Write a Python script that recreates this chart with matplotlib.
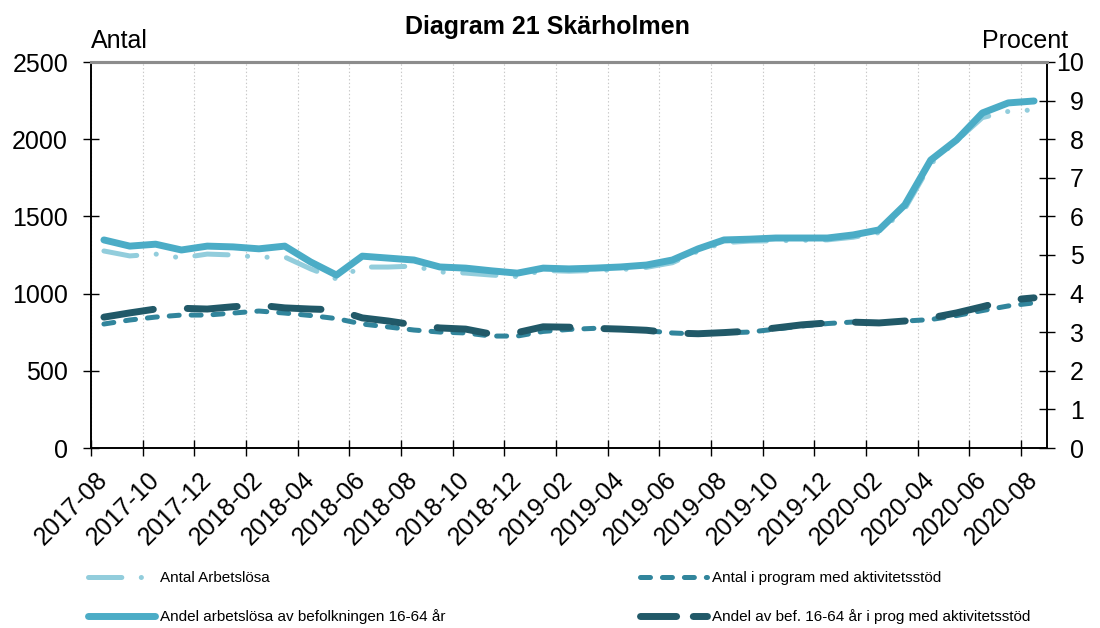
import numpy as np
import pandas as pd
import matplotlib
matplotlib.use('Agg')
import matplotlib.pyplot as plt
from matplotlib.lines import Line2D

plt.rcParams['font.family'] = ['Liberation Sans', 'DejaVu Sans']
plt.rcParams['lines.scale_dashes'] = False

# months 2017-08 .. 2020-08
months = [str(p) for p in pd.period_range('2017-08', '2020-08', freq='M')]
tick_labels = months[::2]

# Antal Arbetslösa (left axis)
antal_arbetslosa = [1276, 1244, 1256, 1231, 1256, 1250, 1235, 1237, 1160, 1095,
                    1172, 1172, 1178, 1140, 1133, 1120, 1110, 1150, 1145, 1150,
                    1155, 1170, 1200, 1275, 1330, 1340, 1342, 1345, 1348, 1365,
                    1395, 1550, 1840, 1990, 2140, 2180, 2190]
# Antal i program med aktivitetsstöd (left axis)
antal_program = [803, 829, 848, 861, 861, 874, 887, 874, 858, 838,
                 803, 784, 764, 751, 745, 725, 725, 755, 768, 775,
                 770, 760, 745, 738, 745, 751, 770, 790, 806, 816,
                 813, 822, 832, 858, 890, 920, 940]
# Andel arbetslösa av befolkningen 16-64 år (right axis, %)
andel_arbetslosa = [5.39, 5.23, 5.28, 5.13, 5.23, 5.21, 5.16, 5.23, 4.82, 4.48,
                    4.97, 4.92, 4.87, 4.69, 4.66, 4.59, 4.53, 4.66, 4.64, 4.66,
                    4.69, 4.74, 4.87, 5.16, 5.39, 5.41, 5.44, 5.44, 5.44, 5.52,
                    5.65, 6.30, 7.46, 7.98, 8.68, 8.94, 8.99]
# Andel av bef. 16-64 år i prog med aktivitetsstöd (right axis, %)
andel_program = [3.39, 3.50, 3.60, 3.62, 3.60, 3.66, 3.70, 3.63, 3.60, 3.58,
                 3.37, 3.29, 3.19, 3.11, 3.08, 2.95, 2.99, 3.14, 3.13, 3.10,
                 3.08, 3.05, 2.98, 2.96, 2.99, 3.03, 3.11, 3.19, 3.24, 3.26,
                 3.24, 3.29, 3.37, 3.50, 3.66, 3.83, 3.89]

x = np.arange(len(months))

fig = plt.figure(figsize=(11, 6.28), dpi=100)
ax = fig.add_axes([91 / 1100, 1 - 448 / 628, (1047 - 91) / 1100, (448 - 62) / 628])

l1, = ax.plot(x, antal_arbetslosa, color='#92cddc', lw=3.6,
              dashes=(24, 14, 0.1, 14, 0.1, 14), dash_capstyle='round',
              solid_capstyle='round', label='Antal Arbetslösa')
l3, = ax.plot(x, antal_program, color='#31859c', lw=3.6, dashes=(7.2, 8.6),
              dash_capstyle='round', label='Antal i program med aktivitetsstöd')

ax2 = ax.twinx()
l2, = ax2.plot(x, andel_arbetslosa, color='#4bacc6', lw=5, solid_capstyle='round',
               solid_joinstyle='round', label='Andel arbetslösa av befolkningen 16-64 år')
l4, = ax2.plot(x, andel_program, color='#215968', lw=5, dashes=(36, 24.5),
               dash_capstyle='round', label='Andel av bef. 16-64 år i prog med aktivitetsstöd')

# axes limits and ticks
ax.set_xlim(-0.5, len(months) - 0.5)
ax.set_ylim(0, 2500)
ax2.set_ylim(0, 10)

ax.set_xticks(np.arange(-0.5, len(months) - 1, 2))
ax.set_xticklabels([])
ax.set_xticks(x[::2], labels=tick_labels, minor=True, rotation=45, ha='right',
              va='center', rotation_mode='anchor')
ax.tick_params(axis='x', which='major', direction='inout', length=11, width=1)
ax.tick_params(axis='x', which='minor', length=0, labelsize=18, pad=20)
ax.grid(axis='x', which='major', color='#c8c8c8', ls=':', lw=0.8)

ax.set_yticks(range(0, 2501, 500))
ax.tick_params(axis='y', direction='inout', length=11, width=1, labelsize=18, pad=11)
ax2.set_yticks(range(11), labels=[str(v) for v in range(11)], ha='right')
ax2.tick_params(axis='y', direction='inout', length=11, width=1, labelsize=18, pad=21)

for a in (ax, ax2):
    for s in ('left', 'right', 'bottom'):
        a.spines[s].set_color('black')
        a.spines[s].set_linewidth(1.2)
    a.spines['top'].set_color('#8c8c8c')
    a.spines['top'].set_linewidth(2.2)

# texts
fig.text(547 / 1100, 1 - 34 / 628, 'Diagram 21 Skärholmen', fontsize=18,
         fontweight='bold', ha='center', va='baseline')
fig.text(91 / 1100, 1 - 48 / 628, 'Antal', fontsize=18, ha='left', va='baseline')
fig.text(1068 / 1100, 1 - 48 / 628, 'Procent', fontsize=18, ha='right', va='baseline')

# legend (dark handle uses a shorter dash so the pattern shows in the key)
h4 = Line2D([], [], color='#215968', lw=5, dashes=(26, 12), dash_capstyle='round')
leg_kw = dict(loc='upper left', frameon=False, fontsize=11, handlelength=4.4,
              handletextpad=0.3, labelspacing=1.6, borderpad=0, borderaxespad=0)
fig.legend(handles=[l1, l2], labels=[l1.get_label(), l2.get_label()],
           bbox_to_anchor=(88 / 1100, 1 - 571 / 628), **leg_kw)
fig.legend(handles=[l3, h4], labels=[l3.get_label(), l4.get_label()],
           bbox_to_anchor=(640 / 1100, 1 - 571 / 628), **leg_kw)

fig.savefig('out.png', dpi=100)
